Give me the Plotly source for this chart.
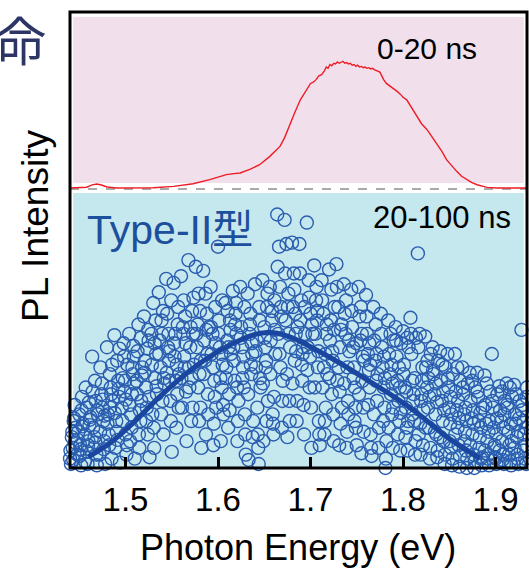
import plotly.graph_objects as go

# ---------------- data ----------------
# early-time (0-20 ns) PL spectrum
early_energy = [1.440, 1.450, 1.458, 1.464, 1.469, 1.474, 1.480, 1.490, 1.510, 1.530,
                1.552, 1.573, 1.591, 1.609, 1.617, 1.624, 1.635, 1.645, 1.656, 1.667,
                1.672, 1.678, 1.683, 1.689, 1.694, 1.697, 1.700, 1.703, 1.706, 1.709,
                1.712, 1.715, 1.717, 1.719, 1.721, 1.723, 1.725, 1.727, 1.729, 1.731,
                1.733, 1.735, 1.737, 1.739, 1.741, 1.743, 1.745, 1.747, 1.749, 1.751,
                1.753, 1.755, 1.757, 1.759, 1.761, 1.763, 1.765, 1.767, 1.769, 1.771,
                1.773, 1.775, 1.777, 1.779, 1.782, 1.785, 1.788, 1.791, 1.794, 1.797,
                1.800, 1.804, 1.809, 1.815, 1.820, 1.826, 1.831, 1.836, 1.842, 1.847,
                1.852, 1.858, 1.863, 1.869, 1.874, 1.880, 1.885, 1.891, 1.901, 1.934]
early_intensity = [0.0, 0.0, 0.006, 0.025, 0.032, 0.024, 0.008, 0.0, 0.0, 0.002,
                   0.013, 0.034, 0.066, 0.106, 0.114, 0.119, 0.150, 0.185, 0.251, 0.330,
                   0.400, 0.516, 0.600, 0.700, 0.760, 0.790, 0.830, 0.840, 0.860, 0.890,
                   0.900, 0.930, 0.960, 0.950, 0.980, 0.970, 0.990, 0.985, 1.000, 0.990,
                   0.997, 1.005, 0.990, 0.995, 0.985, 0.990, 0.975, 0.980, 0.965, 0.975,
                   0.960, 0.965, 0.955, 0.960, 0.950, 0.955, 0.945, 0.950, 0.940, 0.935,
                   0.930, 0.920, 0.890, 0.860, 0.830, 0.815, 0.800, 0.780, 0.765, 0.745,
                   0.720, 0.700, 0.640, 0.568, 0.510, 0.463, 0.410, 0.357, 0.290, 0.225,
                   0.180, 0.132, 0.095, 0.066, 0.045, 0.026, 0.014, 0.005, 0.0, 0.0]

# late-time (20-100 ns) PL, noisy data points (first pass)
late_energy = [
    1.440, 1.442, 1.444, 1.441, 1.445, 1.443, 1.446,
    1.448, 1.450, 1.452, 1.449, 1.453, 1.451, 1.454,
    1.456, 1.458, 1.460, 1.457, 1.461, 1.459, 1.462,
    1.464, 1.466, 1.468, 1.465, 1.469, 1.467, 1.470,
    1.472, 1.474, 1.476, 1.473, 1.477, 1.475, 1.478,
    1.480, 1.482, 1.484, 1.481, 1.485, 1.483, 1.486,
    1.488, 1.490, 1.492, 1.489, 1.493, 1.491, 1.494,
    1.496, 1.498, 1.500, 1.497, 1.501, 1.499, 1.502,
    1.504, 1.506, 1.508, 1.505, 1.509, 1.507, 1.510,
    1.512, 1.514, 1.516, 1.513, 1.517, 1.515, 1.518,
    1.520, 1.522, 1.524, 1.521, 1.525, 1.523, 1.526,
    1.528, 1.530, 1.532, 1.529, 1.533, 1.531, 1.534,
    1.536, 1.538, 1.540, 1.537, 1.541, 1.539, 1.542,
    1.544, 1.546, 1.548, 1.545, 1.549, 1.547, 1.550,
    1.552, 1.554, 1.556, 1.553, 1.557, 1.555, 1.558,
    1.560, 1.562, 1.564, 1.561, 1.565, 1.563, 1.566,
    1.568, 1.570, 1.572, 1.569, 1.573, 1.571, 1.574,
    1.576, 1.578, 1.580, 1.577, 1.581, 1.579, 1.582,
    1.584, 1.586, 1.588, 1.585, 1.589, 1.587, 1.590,
    1.592, 1.594, 1.596, 1.593, 1.597, 1.595, 1.598,
    1.600, 1.602, 1.604, 1.601, 1.605, 1.603, 1.606,
    1.608, 1.610, 1.612, 1.609, 1.613, 1.611, 1.614,
    1.616, 1.618, 1.620, 1.617, 1.621, 1.619, 1.622,
    1.624, 1.626, 1.628, 1.625, 1.629, 1.627, 1.630,
    1.632, 1.634, 1.636, 1.633, 1.637, 1.635, 1.638,
    1.640, 1.642, 1.644, 1.641, 1.645, 1.643, 1.646,
    1.648, 1.650, 1.652, 1.649, 1.653, 1.651, 1.654,
    1.656, 1.658, 1.660, 1.657, 1.661, 1.659, 1.662,
    1.664, 1.666, 1.668, 1.665, 1.669, 1.667, 1.670,
    1.672, 1.674, 1.676, 1.673, 1.677, 1.675, 1.678,
    1.680, 1.682, 1.684, 1.681, 1.685, 1.683, 1.686,
    1.688, 1.690, 1.692, 1.689, 1.693, 1.691, 1.694,
    1.696, 1.698, 1.700, 1.697, 1.701, 1.699, 1.702,
    1.704, 1.706, 1.708, 1.705, 1.709, 1.707, 1.710,
    1.712, 1.714, 1.716, 1.713, 1.717, 1.715, 1.718,
    1.720, 1.722, 1.724, 1.721, 1.725, 1.723, 1.726,
    1.728, 1.730, 1.732, 1.729, 1.733, 1.731, 1.734,
    1.736, 1.738, 1.740, 1.737, 1.741, 1.739, 1.742,
    1.744, 1.746, 1.748, 1.745, 1.749, 1.747, 1.750,
    1.752, 1.754, 1.756, 1.753, 1.757, 1.755, 1.758,
    1.760, 1.762, 1.764, 1.761, 1.765, 1.763, 1.766,
    1.768, 1.770, 1.772, 1.769, 1.773, 1.771, 1.774,
    1.776, 1.778, 1.780, 1.777, 1.781, 1.779, 1.782,
    1.784, 1.786, 1.788, 1.785, 1.789, 1.787, 1.790,
    1.792, 1.794, 1.796, 1.793, 1.797, 1.795, 1.798,
    1.800, 1.802, 1.804, 1.801, 1.805, 1.803, 1.806,
    1.808, 1.810, 1.812, 1.809, 1.813, 1.811, 1.814,
    1.816, 1.818, 1.820, 1.817, 1.821, 1.819, 1.822,
    1.824, 1.826, 1.828, 1.825, 1.829, 1.827, 1.830,
    1.832, 1.834, 1.836, 1.833, 1.837, 1.835, 1.838,
    1.840, 1.842, 1.844, 1.841, 1.845, 1.843, 1.846,
    1.848, 1.850, 1.852, 1.849, 1.853, 1.851, 1.854,
    1.856, 1.858, 1.860, 1.857, 1.861, 1.859, 1.862,
    1.864, 1.866, 1.868, 1.865, 1.869, 1.867, 1.870,
    1.872, 1.874, 1.876, 1.873, 1.877, 1.875, 1.878,
    1.880, 1.882, 1.884, 1.881, 1.885, 1.883, 1.886,
    1.888, 1.890, 1.892, 1.889, 1.893, 1.891, 1.894,
    1.896, 1.898, 1.900, 1.897, 1.901, 1.899, 1.902,
    1.904, 1.906, 1.908, 1.905, 1.909, 1.907, 1.910,
    1.912, 1.914, 1.916, 1.913, 1.917, 1.915, 1.918,
    1.920, 1.922, 1.924, 1.921, 1.925, 1.923, 1.926,
    1.928, 1.930, 1.932, 1.929, 1.933, 1.931, 1.934,
]
late_intensity = [
    0.02, 0.18, 0.30, -0.02, 0.42, 0.10, 0.25,
    0.05, 0.35, -0.03, 0.22, 0.48, 0.12, 0.28,
    0.00, 0.40, 0.15, 0.55, 0.27, -0.02, 0.33,
    0.78, 0.10, 0.45, 0.25, -0.03, 0.60, 0.35,
    0.05, 0.50, 0.30, 0.70, 0.15, 0.40, -0.02,
    0.85, 0.20, 0.55, 0.35, 0.02, 0.65, 0.45,
    0.94, 0.30, 0.60, 0.10, 0.48, 0.75, -0.01,
    0.40, 0.88, 0.20, 0.62, 0.05, 0.52, 0.72,
    0.95, 0.35, 0.65, 0.15, 0.78, 0.50, 0.02,
    0.60, 1.02, 0.30, 0.82, 0.45, 0.10, 0.70,
    1.08, 0.55, 0.20, 0.75, 0.90, 0.40, 0.03,
    0.95, 1.18, 0.62, 0.35, 0.80, 0.10, 0.50,
    1.26, 0.70, 0.45, 0.90, 0.20, 1.05, 0.58,
    1.36, 0.85, 0.60, 1.10, 0.30, 0.75, 0.07,
    1.33, 0.95, 0.50, 0.78, 1.15, 0.25, 0.65,
    1.38, 1.00, 0.70, 0.40, 0.88, 1.20, 0.15,
    1.50, 0.85, 1.12, 0.55, 0.95, 0.30, 0.72,
    1.45, 1.02, 0.65, 0.85, 0.40, 1.25, 0.10,
    1.42, 0.75, 1.10, 0.90, 0.50, 0.20, 1.00,
    1.30, 0.95, 0.60, 0.80, 1.15, 0.12, 0.40,
    1.60, 0.85, 0.55, 1.05, 0.72, 0.15, 0.35,
    1.18, 0.90, 0.50, 0.70, 1.05, 0.25, 0.80,
    1.27, 0.60, 0.95, 0.75, 0.15, 1.10, 0.45,
    1.30, 0.85, 0.55, 1.00, 0.35, 0.70, 0.05,
    1.25, 0.95, 0.65, 0.01, 0.80, 1.10, 0.30,
    1.32, 0.90, -0.02, 0.70, 1.05, 0.20, 0.55,
    1.35, 1.00, 0.75, 0.15, 1.15, 0.85, 0.45,
    1.30, 1.05, 0.20, 0.90, 1.20, 0.35, 0.80,
    1.84, 1.60, 1.15, 0.95, 0.25, 1.30, 0.60,
    1.80, 1.62, 1.25, 1.05, 0.45, 0.18, 0.85,
    1.63, 1.40, 0.95, 1.15, 0.30, 0.75, 1.00,
    1.62, 1.20, 0.85, 1.05, 0.20, 0.60, 0.95,
    1.78, 1.35, 1.10, 0.85, 0.10, 0.55, 0.95,
    1.46, 1.20, 0.70, 0.95, 0.30, 1.05, 0.12,
    1.35, 1.10, 0.80, 0.55, 0.95, 0.20, 0.65,
    1.43, 1.05, 0.75, 0.90, 0.15, 0.50, 1.15,
    1.47, 1.15, 0.85, 0.60, 0.98, 0.12, 0.40,
    1.32, 0.95, 0.70, 1.10, 0.35, 0.10, 0.82,
    1.28, 0.85, 0.55, 1.00, 0.25, 0.70, 0.12,
    1.30, 0.90, 0.60, 1.08, 0.40, 0.06, 0.75,
    1.24, 0.80, 0.55, 0.95, 0.20, 0.68, 0.04,
    1.15, 0.75, 0.45, 0.90, -0.06, 0.60, 0.25,
    1.10, 0.70, 0.40, 0.85, -0.05, 0.55, 0.15,
    1.05, 0.65, 0.35, 0.80, 0.10, 0.50, 0.90,
    1.00, 0.60, 0.30, 0.78, 0.08, 0.45, 0.88,
    0.97, 0.55, 0.25, 0.72, 0.08, 0.40, 0.85,
    1.07, 0.60, 0.30, 0.80, 0.05, 0.45, 0.92,
    1.55, 0.95, 0.50, 0.20, 0.70, 0.05, 0.38,
    0.93, 0.55, 0.25, 0.70, 0.02, 0.40, 0.80,
    0.85, 0.50, 0.20, 0.65, 0.03, 0.35, 0.75,
    0.82, 0.45, 0.15, 0.60, -0.02, 0.30, 0.70,
    0.80, 0.40, 0.10, 0.55, -0.03, 0.28, 0.65,
    0.80, 0.38, 0.12, 0.52, -0.04, 0.25, 0.60,
    0.70, 0.35, 0.08, 0.50, -0.05, 0.22, 0.58,
    0.66, 0.32, 0.05, 0.45, -0.05, 0.20, 0.55,
    0.66, 0.30, 0.02, 0.48, -0.03, 0.18, 0.40,
    0.64, 0.28, 0.05, 0.42, -0.03, 0.15, 0.52,
    0.80, 0.25, 0.02, 0.40, -0.02, 0.12, 0.50,
    0.56, 0.30, 0.05, 0.38, -0.02, 0.15, 0.45,
    0.58, 0.22, 0.00, 0.40, -0.03, 0.12, 0.48,
    0.57, 0.28, 0.05, 0.35, -0.02, 0.18, 0.45,
    0.98, 0.30, 0.02, 0.42, -0.02, 0.20, 0.55,
]

# late-time data points (second pass, dense core around the band)
late_energy_2 = [
    1.4405, 1.4425, 1.4445, 1.4455, 1.4435,
    1.4485, 1.4505, 1.4525, 1.4535, 1.4515,
    1.4565, 1.4585, 1.4605, 1.4615, 1.4595,
    1.4645, 1.4665, 1.4685, 1.4695, 1.4675,
    1.4725, 1.4745, 1.4765, 1.4775, 1.4755,
    1.4805, 1.4825, 1.4845, 1.4855, 1.4835,
    1.4885, 1.4905, 1.4925, 1.4935, 1.4915,
    1.4965, 1.4985, 1.5005, 1.5015, 1.4995,
    1.5045, 1.5065, 1.5085, 1.5095, 1.5075,
    1.5125, 1.5145, 1.5165, 1.5175, 1.5155,
    1.5205, 1.5225, 1.5245, 1.5255, 1.5235,
    1.5285, 1.5305, 1.5325, 1.5335, 1.5315,
    1.5365, 1.5385, 1.5405, 1.5415, 1.5395,
    1.5445, 1.5465, 1.5485, 1.5495, 1.5475,
    1.5525, 1.5545, 1.5565, 1.5575, 1.5555,
    1.5605, 1.5625, 1.5645, 1.5655, 1.5635,
    1.5685, 1.5705, 1.5725, 1.5735, 1.5715,
    1.5765, 1.5785, 1.5805, 1.5815, 1.5795,
    1.5845, 1.5865, 1.5885, 1.5895, 1.5875,
    1.5925, 1.5945, 1.5965, 1.5975, 1.5955,
    1.6005, 1.6025, 1.6045, 1.6055, 1.6035,
    1.6085, 1.6105, 1.6125, 1.6135, 1.6115,
    1.6165, 1.6185, 1.6205, 1.6215, 1.6195,
    1.6245, 1.6265, 1.6285, 1.6295, 1.6275,
    1.6325, 1.6345, 1.6365, 1.6375, 1.6355,
    1.6405, 1.6425, 1.6445, 1.6455, 1.6435,
    1.6485, 1.6505, 1.6525, 1.6535, 1.6515,
    1.6565, 1.6585, 1.6605, 1.6615, 1.6595,
    1.6645, 1.6665, 1.6685, 1.6695, 1.6675,
    1.6725, 1.6745, 1.6765, 1.6775, 1.6755,
    1.6805, 1.6825, 1.6845, 1.6855, 1.6835,
    1.6885, 1.6905, 1.6925, 1.6935, 1.6915,
    1.6965, 1.6985, 1.7005, 1.7015, 1.6995,
    1.7045, 1.7065, 1.7085, 1.7095, 1.7075,
    1.7125, 1.7145, 1.7165, 1.7175, 1.7155,
    1.7205, 1.7225, 1.7245, 1.7255, 1.7235,
    1.7285, 1.7305, 1.7325, 1.7335, 1.7315,
    1.7365, 1.7385, 1.7405, 1.7415, 1.7395,
    1.7445, 1.7465, 1.7485, 1.7495, 1.7475,
    1.7525, 1.7545, 1.7565, 1.7575, 1.7555,
    1.7605, 1.7625, 1.7645, 1.7655, 1.7635,
    1.7685, 1.7705, 1.7725, 1.7735, 1.7715,
    1.7765, 1.7785, 1.7805, 1.7815, 1.7795,
    1.7845, 1.7865, 1.7885, 1.7895, 1.7875,
    1.7925, 1.7945, 1.7965, 1.7975, 1.7955,
    1.8005, 1.8025, 1.8045, 1.8055, 1.8035,
    1.8085, 1.8105, 1.8125, 1.8135, 1.8115,
    1.8165, 1.8185, 1.8205, 1.8215, 1.8195,
    1.8245, 1.8265, 1.8285, 1.8295, 1.8275,
    1.8325, 1.8345, 1.8365, 1.8375, 1.8355,
    1.8405, 1.8425, 1.8445, 1.8455, 1.8435,
    1.8485, 1.8505, 1.8525, 1.8535, 1.8515,
    1.8565, 1.8585, 1.8605, 1.8615, 1.8595,
    1.8645, 1.8665, 1.8685, 1.8695, 1.8675,
    1.8725, 1.8745, 1.8765, 1.8775, 1.8755,
    1.8805, 1.8825, 1.8845, 1.8855, 1.8835,
    1.8885, 1.8905, 1.8925, 1.8935, 1.8915,
    1.8965, 1.8985, 1.9005, 1.9015, 1.8995,
    1.9045, 1.9065, 1.9085, 1.9095, 1.9075,
    1.9125, 1.9145, 1.9165, 1.9175, 1.9155,
    1.9205, 1.9225, 1.9245, 1.9255, 1.9235,
    1.9285, 1.9305, 1.9325, 1.9335, 1.9315,
]
late_intensity_2 = [
    0.08, 0.22, 0.32, 0.14, 0.01,
    0.16, 0.04, 0.38, 0.26, 0.09,
    0.20, 0.07, 0.44, 0.31, 0.12,
    0.52, 0.18, 0.05, 0.38, 0.14,
    0.22, 0.58, 0.09, 0.34, 0.46,
    0.28, 0.12, 0.50, 0.72, 0.40,
    0.36, 0.22, 0.54, 0.84, 0.16,
    0.30, 0.78, 0.46, 0.12, 0.60,
    0.42, 0.25, 0.86, 0.58, 0.70,
    0.50, 0.20, 0.92, 0.64, 0.38,
    0.66, 0.30, 0.98, 0.48, 0.84,
    0.72, 0.25, 1.05, 0.56, 0.88,
    0.80, 0.35, 1.12, 0.62, 0.95,
    0.66, 0.95, 0.45, 1.20, 0.82,
    0.88, 0.60, 1.02, 0.40, 0.72,
    0.62, 0.95, 1.08, 0.52, 0.78,
    0.70, 1.00, 0.40, 1.22, 0.62,
    0.95, 0.55, 1.12, 0.75, 0.30,
    0.65, 1.25, 0.80, 0.35, 0.98,
    1.00, 0.70, 0.48, 0.88, 0.28,
    0.95, 0.62, 1.20, 0.42, 0.80,
    0.62, 1.12, 0.38, 0.98, 0.85,
    0.85, 1.02, 0.55, 0.30, 1.18,
    0.92, 0.62, 1.15, 0.20, 0.78,
    0.50, 1.02, 0.88, 0.18, 0.72,
    0.82, 0.40, 1.15, 0.62, 0.10,
    0.58, 0.92, 0.30, 1.25, 0.70,
    0.65, 1.12, 0.48, 0.98, 0.28,
    1.45, 0.80, 1.08, 0.45, 0.70,
    1.40, 0.65, 0.95, 0.30, 1.15,
    0.58, 1.28, 0.82, 0.45, 1.10,
    1.40, 0.72, 0.42, 1.15, 0.80,
    0.68, 1.22, 0.40, 1.02, 0.78,
    0.55, 1.30, 0.82, 0.20, 1.12,
    1.20, 0.70, 0.40, 1.02, 0.30,
    0.62, 1.28, 0.35, 0.98, 0.82,
    1.30, 0.70, 0.28, 1.02, 0.52,
    0.58, 1.20, 0.45, 0.90, 0.22,
    1.12, 0.62, 0.40, 0.88, 0.30,
    0.50, 1.15, 0.78, 0.22, 0.95,
    1.08, 0.42, 0.72, 0.10, 0.88,
    0.35, 1.02, 0.65, 0.10, 0.80,
    0.95, 0.30, 0.62, 0.02, 0.78,
    0.25, 0.95, 0.58, 0.40, 0.72,
    0.90, 0.20, 0.55, 0.36, 0.70,
    0.65, 0.18, 0.92, 0.30, 0.52,
    0.95, 0.35, 0.62, 0.15, 0.50,
    0.85, 0.28, 0.60, 0.12, 0.45,
    0.25, 0.75, 0.48, 0.10, 0.62,
    0.68, 0.22, 0.44, 0.08, 0.58,
    0.18, 0.72, 0.38, 0.05, 0.52,
    0.62, 0.15, 0.35, 0.02, 0.48,
    0.20, 0.70, 0.32, 0.04, 0.45,
    0.55, 0.15, 0.30, 0.02, 0.40,
    0.12, 0.60, 0.28, 0.00, 0.38,
    0.52, 0.10, 0.25, 0.03, 0.36,
    0.08, 0.58, 0.22, 0.30, 0.02,
    0.45, 0.10, 0.20, 0.32, 0.03,
    0.08, 0.52, 0.25, 0.35, 0.01,
    0.42, 0.05, 0.28, 0.15, 0.55,
    0.10, 0.50, 0.22, 0.32, 0.02,
    0.38, 0.08, 0.25, 0.48, 0.12,
]

# fitted curve for the late-time data
fit_energy = [1.460, 1.483, 1.508, 1.537, 1.566, 1.591, 1.617, 1.638, 1.653, 1.664,
              1.681, 1.703, 1.732, 1.761, 1.790, 1.818, 1.847, 1.883]
fit_intensity = [0.034, 0.134, 0.284, 0.482, 0.657, 0.781, 0.881, 0.943, 0.960, 0.955,
                 0.918, 0.843, 0.731, 0.607, 0.482, 0.346, 0.184, 0.022]

x_ticks = [1.5, 1.6, 1.7, 1.8, 1.9]
x_tick_labels = ["1.5", "1.6", "1.7", "1.8", "1.9"]

# ---------------- figure ----------------
FONT = "Arial, Liberation Sans, sans-serif"
fig = go.Figure()

fig.add_trace(go.Scatter(
    x=late_energy + late_energy_2, y=late_intensity + late_intensity_2,
    mode="markers", yaxis="y",
    marker=dict(symbol="circle-open", size=13, color="#2a5db0", line=dict(width=1.4)),
    cliponaxis=False, showlegend=False))

fig.add_trace(go.Scatter(
    x=fit_energy, y=fit_intensity, mode="lines", yaxis="y",
    line=dict(color="#1a46a0", width=5, shape="spline"), showlegend=False))

fig.add_trace(go.Scatter(
    x=early_energy, y=early_intensity, mode="lines", xaxis="x", yaxis="y2",
    line=dict(color="#ee1c24", width=1.4), showlegend=False))

shapes = [
    # pink background (early)
    dict(type="rect", xref="x domain", yref="y2 domain", x0=0.007, x1=0.993,
         y0=0.055, y1=0.972, fillcolor="#f2dfec", line=dict(width=0), layer="below"),
    # blue background (late)
    dict(type="rect", xref="x domain", yref="y domain", x0=0.007, x1=0.993,
         y0=0.0, y1=1.0, fillcolor="#c5e7ee", line=dict(width=0), layer="below"),
    # dashed baseline
    dict(type="line", xref="x domain", yref="y2", x0=0.0, x1=1.0, y0=-0.008, y1=-0.008,
         line=dict(color="#555555", width=1, dash="dash"), layer="below"),
    # frame
    dict(type="rect", xref="paper", yref="paper", x0=0, x1=1, y0=0, y1=1,
         line=dict(color="black", width=3), layer="above"),
]


def label(text, x, y, size, color="black", family=FONT, angle=0):
    return dict(text=text, xref="paper", yref="paper", x=x, y=y,
                xanchor="center", yanchor="middle", textangle=angle,
                showarrow=False, font=dict(family=family, size=size, color=color))


annotations = [
    label("0-20 ns", 0.782, 0.921, 30),
    label("20-100 ns", 0.813, 0.550, 31),
    label("Type-II<span style='font-family:Noto Sans CJK JP'>型</span>", 0.219, 0.530,
          41, color="#1c4f9c"),
    label("PL Intensity", -0.074, 0.531, 37, angle=-90),
    label("Photon Energy (eV)", 0.499, -0.174, 36),
    label("命", -0.109, 0.941, 52, color="#2c3566", family="Noto Sans CJK JP"),
]

fig.update_layout(
    width=529, height=568,
    margin=dict(l=70, r=2, t=12, b=100, autoexpand=False),
    paper_bgcolor="white", plot_bgcolor="white",
    xaxis=dict(range=[1.44, 1.934], tickvals=x_ticks, ticktext=x_tick_labels,
               ticks="inside", ticklen=11, tickwidth=2.5, tickcolor="black",
               showgrid=False, zeroline=False, showline=False, anchor="y",
               automargin=False,
               tickfont=dict(family=FONT, size=33, color="black"),
               ticklabelstandoff=9),
    yaxis=dict(domain=[0.0, 0.603], range=[-0.05, 2.0], showticklabels=False,
               ticks="", showgrid=False, zeroline=False, showline=False, automargin=False),
    yaxis2=dict(domain=[0.603, 1.0], range=[-0.04, 1.397], showticklabels=False,
                ticks="", showgrid=False, zeroline=False, showline=False, anchor="x",
                automargin=False),
    shapes=shapes, annotations=annotations,
)

fig.write_html("out.html", config={"displayModeBar": False},
               post_script="document.body.style.margin='0px';")
